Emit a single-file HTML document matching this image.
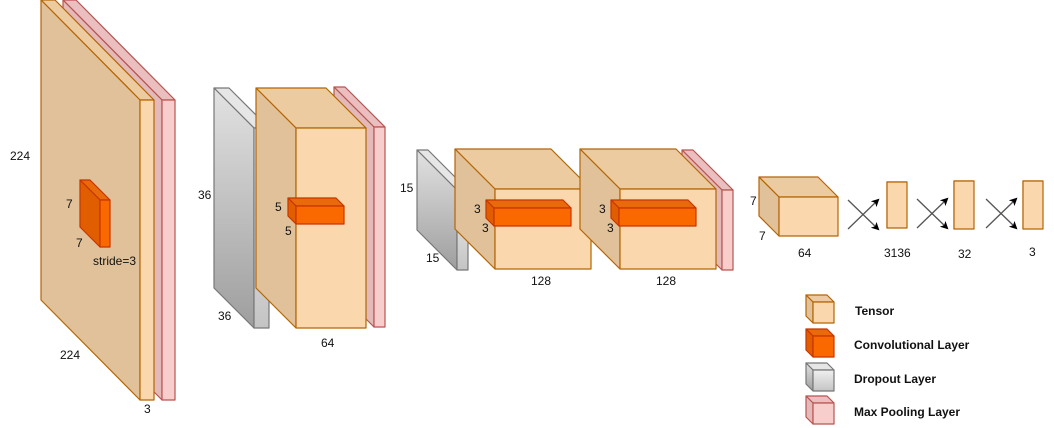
<!DOCTYPE html>
<html><head><meta charset="utf-8">
<style>
html,body{margin:0;padding:0;background:#fff;}
svg{display:block;font-family:"Liberation Sans",Arial,sans-serif;}
text{font-size:12px;fill:#111;}
.lg{font-weight:bold;font-size:12px;}
</style></head>
<body>
<svg id="s" width="1054" height="428" viewBox="0 0 1054 428" xmlns="http://www.w3.org/2000/svg">
<defs>
<linearGradient id="gf" x1="0" y1="0" x2="0" y2="1"><stop offset="0" stop-color="#f0f0f0"/><stop offset="1" stop-color="#c4c4c4"/></linearGradient>
<linearGradient id="gs" x1="0" y1="0" x2="0" y2="1"><stop offset="0" stop-color="#e2e2e2"/><stop offset="1" stop-color="#9e9e9e"/></linearGradient>
<marker id="ah" markerWidth="8" markerHeight="8" refX="6" refY="4" orient="auto" markerUnits="userSpaceOnUse"><path d="M0,0 L8,4 L0,8 L2,4 z" fill="#000"/></marker>
</defs>
</svg>
<script>
const NS='http://www.w3.org/2000/svg';
const svg=document.getElementById('s');
const styles={
 tensor:{top:'#edcba0',side:'#e1c199',front:'#fad7ac',stroke:'#b46504'},
 conv:{top:'#e96a0a',side:'#e05e00',front:'#fa6800',stroke:'#c73500'},
 drop:{top:'#e6e6e6',side:'url(#gs)',front:'url(#gf)',stroke:'#777'},
 pool:{top:'#ebbfbf',side:'#e4b9b9',front:'#f8cecc',stroke:'#b85450'}
};
function poly(g,pts,fill,stroke){const p=document.createElementNS(NS,'polygon');p.setAttribute('points',pts.map(a=>a.join(',')).join(' '));p.setAttribute('fill',fill);p.setAttribute('stroke',stroke);p.setAttribute('stroke-width','1.2');p.setAttribute('stroke-linejoin','round');g.appendChild(p);return p;}
function box(name,type,x,y,w,h,dx,dy){
 const st=styles[type];
 const g=document.createElementNS(NS,'g');
 
 
 poly(g,[[x-dx,y-dy],[x+w-dx,y-dy],[x+w,y],[x,y]],st.top,st.stroke);
 poly(g,[[x-dx,y-dy],[x,y],[x,y+h],[x-dx,y+h-dy]],st.side,st.stroke);
 poly(g,[[x,y],[x+w,y],[x+w,y+h],[x,y+h]],st.front,st.stroke);
 svg.appendChild(g);
}
function txt(name,s,x,y,cls){
 const t=document.createElementNS(NS,'text');
 
 
 t.setAttribute('x',x);t.setAttribute('y',y);if(cls)t.setAttribute('class',cls);t.textContent=s;svg.appendChild(t);
}
function cross(name,cx,cy){
 const g=document.createElementNS(NS,'g');
 
 
 [[[-15,-14],[15,15]],[[-15,15],[15,-14]]].forEach(([a,b])=>{const l=document.createElementNS(NS,'line');l.setAttribute('x1',cx+a[0]);l.setAttribute('y1',cy+a[1]);l.setAttribute('x2',cx+b[0]);l.setAttribute('y2',cy+b[1]);l.setAttribute('stroke','#555');l.setAttribute('stroke-width','1.3');l.setAttribute('marker-end','url(#ah)');g.appendChild(l);});
 svg.appendChild(g);
}
// stage 1
box('pool-layer-1','pool',162,100,13,300,99,100);
box('input-tensor','tensor',140,100,14,300,99,100);
box('conv-layer-1','conv',100,200,10,47,20,20);
// stage 2
box('dropout-layer-1','drop',254,128,15,200,40,40);
box('pool-layer-2','pool',374,127,11,200,40,40);
box('tensor-2','tensor',296,128,70,200,40,40);
box('conv-layer-2','conv',296,206,48,18,8,8);
// stage 3
box('dropout-layer-2','drop',457,190,11,80,40,40);
box('tensor-3','tensor',495,189,96,80,40,40);
box('conv-layer-3','conv',494,208,77,18,8,8);
box('pool-layer-4','pool',722,190,11,80,40,40);
box('tensor-4','tensor',620,189,96,80,40,40);
box('conv-layer-4','conv',619,208,77,18,8,8);
box('tensor-5','tensor',779,197,59,39,20,20);
// fc
box('fc-3136','tensor',887,182,20,46,0,0);
box('fc-32','tensor',954,181,20,48,0,0);
box('fc-3','tensor',1023,181,20,48,0,0);
cross('fc-connection-1',863,214);
cross('fc-connection-2',932,213);
cross('fc-connection-3',1001,213);
// labels
txt('label-224-h','224',10,160);
txt('label-7-h','7',66,208);
txt('label-7-w','7',76,247);
txt('label-stride','stride=3',93,265);
txt('label-224-w','224',60,359);
txt('label-3-c','3',144,413);
txt('label-36-h','36',198,199);
txt('label-36-w','36',218,320);
txt('label-5-h','5',275,211);
txt('label-5-w','5',285,235);
txt('label-64-a','64',321,347);
txt('label-15-h','15',400,192);
txt('label-15-w','15',426,262);
txt('label-3-a','3',474,213);
txt('label-3-b','3',482,232);
txt('label-128-a','128',531,285);
txt('label-3-d','3',599,213);
txt('label-3-e','3',607,232);
txt('label-128-b','128',656,285);
txt('label-7-a','7',750,205);
txt('label-7-b','7',759,240);
txt('label-64-b','64',798,257);
txt('label-3136','3136',884,257);
txt('label-32','32',958,258);
txt('label-3-out','3',1029,256);
// legend
box('legend-tensor-icon','tensor',813,302,21,21,7,7);
box('legend-conv-icon','conv',813,336,21,21,7,7);
box('legend-dropout-icon','drop',813,370,21,21,7,7);
box('legend-pool-icon','pool',813,403,21,21,7,7);
txt('legend-tensor','Tensor',855,315,'lg');
txt('legend-conv','Convolutional Layer',854,349,'lg');
txt('legend-dropout','Dropout Layer',854,383,'lg');
txt('legend-pool','Max Pooling Layer',854,416,'lg');
</script>
</body></html>
